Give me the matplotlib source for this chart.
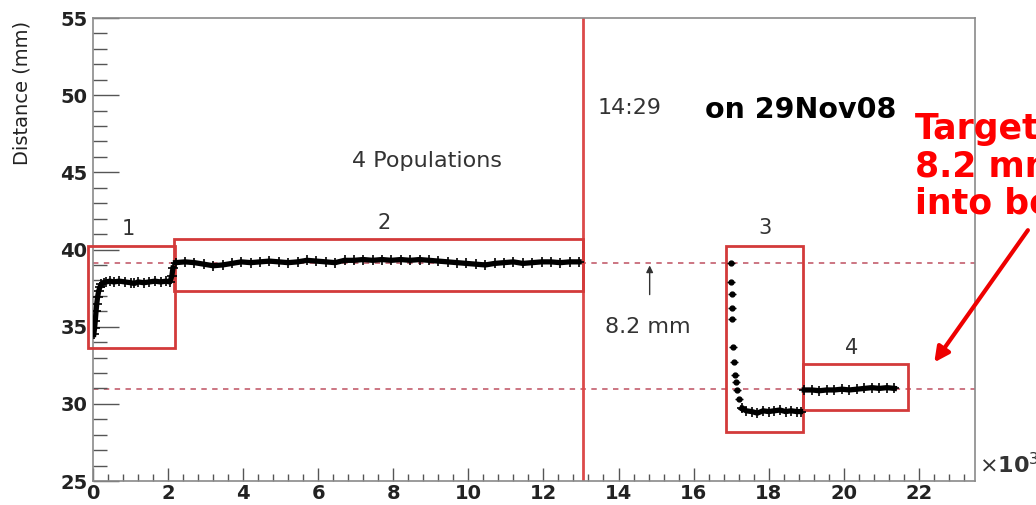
import numpy as np
import matplotlib.pyplot as plt
from matplotlib.patches import Rectangle
from matplotlib.ticker import MultipleLocator

# ============================================================
# data (x in units of 10^3)
# ============================================================
# population 1: rising start, then flat
x1 = [0.02, 0.04, 0.06, 0.08, 0.10, 0.12, 0.15, 0.18, 0.22, 0.28, 0.35, 0.45, 0.55,
      0.70, 0.85, 1.00, 1.10, 1.20, 1.35, 1.50, 1.65, 1.80, 1.95, 2.05, 2.10, 2.13]
y1 = [34.5, 34.9, 35.4, 36.0, 36.5, 36.9, 37.3, 37.55, 37.75, 37.85, 37.9, 37.95, 37.9,
      37.95, 37.9, 37.85, 37.8, 37.9, 37.85, 37.9, 37.95, 37.9, 37.95, 37.9, 38.3, 38.8]

# population 2: long flat run near 39.2
x2 = [2.20, 2.45, 2.70, 2.95, 3.20, 3.45, 3.70, 3.95, 4.20, 4.45, 4.70, 4.95, 5.20, 5.45,
      5.70, 5.95, 6.20, 6.45, 6.70, 6.95, 7.20, 7.45, 7.70, 7.95, 8.20, 8.45, 8.70, 8.95,
      9.20, 9.45, 9.70, 9.95, 10.20, 10.45, 10.70, 10.95, 11.20, 11.45, 11.70, 11.95,
      12.20, 12.45, 12.70, 12.95]
y2 = [39.15, 39.2, 39.15, 39.05, 38.95, 39.0, 39.1, 39.2, 39.15, 39.2, 39.25, 39.2, 39.15,
      39.2, 39.3, 39.25, 39.2, 39.15, 39.3, 39.3, 39.35, 39.3, 39.35, 39.3, 39.35, 39.3,
      39.35, 39.3, 39.25, 39.2, 39.15, 39.1, 39.05, 39.0, 39.1, 39.15, 39.2, 39.1, 39.15,
      39.2, 39.2, 39.15, 39.2, 39.2]

# population 3: fast drop (sparse points) then flat near 29.5
drop3_x = [17.00, 17.00, 17.02, 17.02, 17.02, 17.05, 17.08, 17.10, 17.12, 17.15, 17.20, 17.28]
drop3_y = [39.15, 37.9, 37.1, 36.2, 35.5, 33.7, 32.7, 31.9, 31.4, 30.9, 30.3, 29.7]
x3 = [17.28, 17.40, 17.55, 17.70, 17.85, 18.00, 18.15, 18.30, 18.45, 18.60, 18.75, 18.85]
y3 = [29.7, 29.55, 29.5, 29.4, 29.55, 29.5, 29.55, 29.6, 29.5, 29.55, 29.5, 29.5]

# population 4: flat near 31
x4 = [18.95, 19.15, 19.35, 19.55, 19.75, 19.95, 20.15, 20.35, 20.55, 20.75, 20.95, 21.15, 21.35]
y4 = [30.9, 30.9, 30.85, 30.9, 30.9, 30.95, 30.9, 30.95, 31.0, 31.05, 31.0, 31.05, 31.0]

# red boxes round each population
box_labels = ['1', '2', '3', '4']
box_x0 = [-0.13, 2.15, 16.86, 18.91]
box_x1 = [2.18, 13.05, 18.91, 21.70]
box_y0 = [33.6, 37.3, 28.2, 29.6]
box_y1 = [40.2, 40.7, 40.2, 32.55]

level_hi = 39.15    # dashed reference lines
level_lo = 30.95
cut_x = 13.05       # vertical red line

# ============================================================
# plot
# ============================================================
fig = plt.figure(figsize=(10.36, 5.05), dpi=100)
ax = fig.add_axes([0.0898, 0.0475, 0.8514, 0.9168])

ax.set_xlim(0, 23.5)
ax.set_ylim(25, 55)

red_box = '#d33a3a'
dash_col = '#c86a78'

ax.axhline(level_hi, color=dash_col, lw=1.3, ls=(0, (3, 3)), zorder=1)
ax.axhline(level_lo, color=dash_col, lw=1.3, ls=(0, (3, 3)), zorder=1)
ax.axvline(cut_x, color='#dc4a4a', lw=2.0, zorder=2)

# data bands
for xs, ys in [(x1, y1), (x2, y2), (x3, y3), (x4, y4)]:
    ax.plot(xs, ys, '-', color='k', lw=3.8, zorder=4)
    ax.plot(xs, ys, '+', color='k', ms=7, mew=1.2, zorder=4)
ax.plot(drop3_x, drop3_y, 'o', color='k', ms=3.5, zorder=4)
ax.plot(drop3_x, drop3_y, '_', color='k', ms=6, mew=1, zorder=4)

# boxes
for lab, a, b, c, d in zip(box_labels, box_x0, box_x1, box_y0, box_y1):
    ax.add_patch(Rectangle((a, c), b - a, d - c, fill=False, ec=red_box, lw=2.0,
                           zorder=3, clip_on=False))

lab_pos = [(0.93, 41.3), (7.75, 41.7), (17.9, 41.4), (20.2, 33.6)]
for lab, (tx, ty) in zip(box_labels, lab_pos):
    ax.text(tx, ty, lab, fontsize=15, color='#333333', ha='center', va='center')

ax.text(8.9, 45.75, '4 Populations', fontsize=16, color='#333333', ha='center', va='center')
ax.text(13.45, 49.2, '14:29', fontsize=16, color='#333333', ha='left', va='center')
ax.text(16.3, 49.05, 'on 29Nov08', fontsize=20.5, fontweight='bold', color='k',
        ha='left', va='center')
ax.text(13.63, 35.0, '8.2 mm', fontsize=16, color='#333333', ha='left', va='center')
ax.annotate('', xy=(14.83, level_hi), xytext=(14.83, 36.9),
            arrowprops=dict(arrowstyle='-|>', color='#333333', lw=1.0, mutation_scale=10))

# red note, cut by the figure edge as in the original
ax.text(21.9, 48.9, 'Target\n8.2 mm\ninto be', fontsize=25, fontweight='bold',
        color='#ff0000', ha='left', va='top', linespacing=1.12, clip_on=False)
ax.annotate('', xy=(22.37, 32.54), xytext=(24.95, 41.4), annotation_clip=False,
            arrowprops=dict(arrowstyle='-|>', color='#ee0000', lw=3.0, mutation_scale=22))

# axes style (ROOT-like)
for s in ax.spines.values():
    s.set_color('#8a8a8a')
    s.set_linewidth(1.2)
ax.xaxis.set_major_locator(MultipleLocator(2))
ax.xaxis.set_minor_locator(MultipleLocator(0.4))
ax.yaxis.set_major_locator(MultipleLocator(5))
ax.yaxis.set_minor_locator(MultipleLocator(1))
ax.tick_params(axis='x', which='major', direction='in', length=9.5, width=1, color='#555555',
               labelsize=14, pad=2)
ax.tick_params(axis='x', which='minor', direction='in', length=5, width=1, color='#555555')
ax.tick_params(axis='y', which='major', direction='in', length=19, width=1, color='#555555',
               labelsize=14, pad=4)
ax.tick_params(axis='y', which='minor', direction='in', length=10, width=1, color='#555555')
for t in ax.get_xticklabels() + ax.get_yticklabels():
    t.set_fontweight('bold')
    t.set_color('#222222')

ax.text(1.004, 0.035, r'$\times$10$^3$', transform=ax.transAxes, fontsize=16,
        fontweight='bold', color='#333333', ha='left', va='center', clip_on=False)
fig.text(22 / 1036, 1 - 93 / 505, 'Distance (mm)', rotation=90, fontsize=14,
         color='#222222', ha='center', va='center')

plt.savefig('out.png', dpi=100)
